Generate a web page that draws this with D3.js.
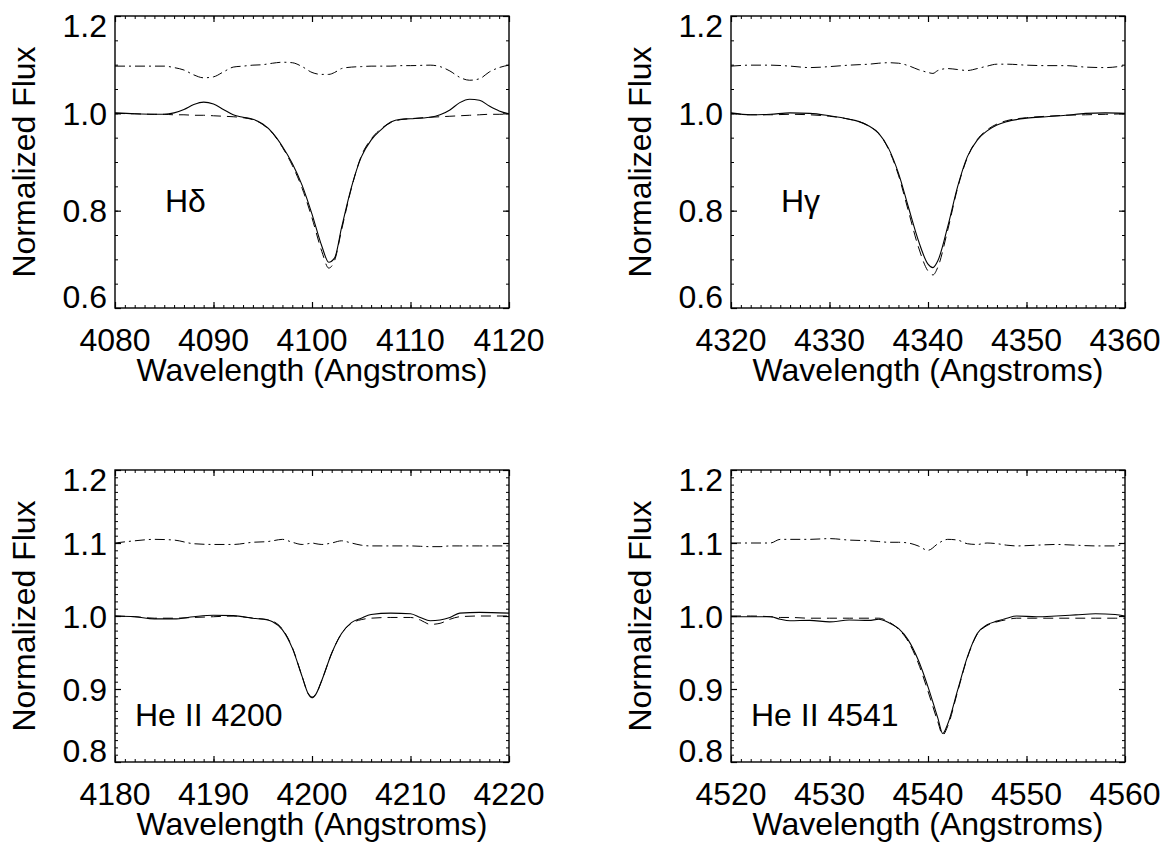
<!DOCTYPE html>
<html>
<head>
<meta charset="utf-8">
<script src="https://cdn.jsdelivr.net/npm/d3@7"></script>
<style>
  body { margin: 0; background: #fff; }
  text { font-family: "Liberation Sans", Arial, Helvetica, sans-serif; fill: #000; }
</style>
</head>
<body>
<svg id="chart" width="1165" height="843"></svg>
<script>
// ---- H delta (4101 A) ----
const hdWave = [4080,4082,4084,4085,4086,4087,4088,4089,4090,4091,4092,4093,4094,4095,4096,4097,4098,4099,4100,4101,4101.7,4102.3,4103,4104,4105,4106,4107,4108,4109,4110,4112,4113,4114,4115,4116,4117,4118,4119,4120];
const hdObs  = [1.001,0.999,0.998,0.998,1.001,1.008,1.018,1.023,1.019,1.008,0.997,0.992,0.988,0.978,0.960,0.932,0.897,0.852,0.793,0.727,0.694,0.703,0.765,0.848,0.910,0.945,0.966,0.982,0.988,0.989,0.992,0.997,1.007,1.022,1.029,1.027,1.015,1.005,0.999];
const hdModel= [1.000,0.999,0.998,0.998,0.997,0.997,0.996,0.996,0.995,0.994,0.993,0.991,0.987,0.977,0.959,0.930,0.893,0.846,0.785,0.716,0.682,0.698,0.760,0.846,0.912,0.947,0.968,0.981,0.987,0.989,0.992,0.993,0.994,0.995,0.996,0.997,0.998,0.998,0.999];
const hdResid= [1.097,1.097,1.097,1.097,1.094,1.089,1.079,1.073,1.075,1.085,1.095,1.097,1.099,1.100,1.103,1.105,1.104,1.096,1.084,1.080,1.080,1.084,1.092,1.095,1.096,1.097,1.097,1.097,1.098,1.098,1.099,1.096,1.087,1.074,1.068,1.071,1.085,1.094,1.099];

// ---- H gamma (4340 A) ----
const hgWave = [4320,4322,4324,4326,4328,4330,4332,4333,4334,4335,4336,4337,4338,4339,4340,4340.5,4341,4342,4343,4344,4345,4346,4347,4348,4350,4352,4354,4356,4358,4360];
const hgObs  = [1.001,0.997,0.998,1.001,1.000,0.995,0.988,0.983,0.974,0.959,0.928,0.877,0.808,0.740,0.690,0.683,0.697,0.767,0.849,0.911,0.945,0.964,0.976,0.983,0.990,0.993,0.996,1.000,1.001,1.000];
const hgModel= [1.000,0.997,0.997,0.998,0.997,0.994,0.988,0.983,0.974,0.958,0.926,0.873,0.800,0.727,0.676,0.668,0.684,0.760,0.846,0.909,0.946,0.966,0.978,0.985,0.991,0.994,0.996,0.997,0.998,0.999];
const hgResid= [1.097,1.099,1.099,1.097,1.094,1.096,1.099,1.100,1.101,1.103,1.104,1.103,1.098,1.090,1.084,1.082,1.088,1.092,1.090,1.088,1.092,1.097,1.101,1.101,1.099,1.098,1.098,1.095,1.094,1.098];

// ---- He II 4200 ----
const he4200Wave = [4180,4182,4184,4186,4188,4190,4192,4194,4195.5,4196,4197,4198,4199,4199.6,4200,4200.4,4201,4202,4203,4204,4205,4206,4208,4210,4211,4212,4213,4214,4215,4217,4220];
const he4200Obs  = [1.000,0.999,0.996,0.996,0.999,1.001,1.0005,0.997,0.9945,0.992,0.981,0.956,0.917,0.894,0.888,0.893,0.912,0.949,0.976,0.991,0.997,1.002,1.004,1.003,0.998,0.9935,0.9945,0.998,1.004,1.005,1.004];
const he4200Model= [1.000,0.999,0.997,0.997,0.998,0.999,1.000,0.997,0.995,0.993,0.982,0.957,0.917,0.894,0.889,0.893,0.912,0.949,0.976,0.990,0.995,0.997,0.998,0.998,0.9945,0.9885,0.990,0.9955,0.999,1.000,1.000];
const he4200Resid= [1.100,1.103,1.105,1.104,1.099,1.098,1.098,1.101,1.102,1.103,1.105,1.101,1.098,1.099,1.100,1.099,1.098,1.100,1.103,1.100,1.097,1.096,1.096,1.096,1.0955,1.095,1.095,1.096,1.096,1.096,1.096];

// ---- He II 4541 ----
const he4541Wave = [4520,4522,4524,4525,4526,4528,4530,4532,4534,4535,4536,4537,4538,4539,4540,4541,4541.5,4542,4543,4544,4545,4546,4547,4548,4549,4551,4553,4555,4557,4559,4560];
const he4541Obs  = [0.999,0.999,0.999,0.9955,0.9935,0.994,0.992,0.9945,0.994,0.9955,0.991,0.983,0.967,0.940,0.903,0.860,0.839,0.852,0.898,0.944,0.976,0.988,0.993,0.997,1.000,0.999,1.000,1.0015,1.003,1.002,1.000];
const he4541Model= [1.000,1.000,0.999,0.998,0.998,0.997,0.997,0.997,0.997,0.997,0.992,0.982,0.965,0.936,0.897,0.855,0.837,0.849,0.896,0.943,0.975,0.987,0.992,0.995,0.997,0.997,0.997,0.997,0.997,0.997,0.997];
const he4541Resid= [1.100,1.100,1.100,1.105,1.105,1.105,1.106,1.104,1.103,1.102,1.101,1.101,1.100,1.096,1.090,1.099,1.103,1.105,1.104,1.099,1.098,1.100,1.099,1.097,1.096,1.097,1.098,1.097,1.096,1.096,1.100];

// ---- axis ticks and labels ----
const balmerYTicks = [0.6, 0.8, 1.0, 1.2];
const balmerYLabels = ["0.6", "0.8", "1.0", "1.2"];
const heliumYTicks = [0.8, 0.9, 1.0, 1.1, 1.2];
const heliumYLabels = ["0.8", "0.9", "1.0", "1.1", "1.2"];
const hdXTicks = [4080, 4090, 4100, 4110, 4120];
const hgXTicks = [4320, 4330, 4340, 4350, 4360];
const he4200XTicks = [4180, 4190, 4200, 4210, 4220];
const he4541XTicks = [4520, 4530, 4540, 4550, 4560];

const panelNames = ["H\u03B4", "H\u03B3", "He II 4200", "He II 4541"];
const xTitle = "Wavelength (Angstroms)";
const yTitle = "Normalized Flux";

// panel layout
const W = 394, H = 292;
const FONT = 32;
const panels = [
  { left: 115, top: 16,  wave: hdWave, obs: hdObs, model: hdModel, resid: hdResid,
    xTicks: hdXTicks, yTicks: balmerYTicks, yLabels: balmerYLabels, yMinorStep: 0.05,
    name: panelNames[0], nameDx: 50, nameBase: 212 - 16 },
  { left: 731, top: 16,  wave: hgWave, obs: hgObs, model: hgModel, resid: hgResid,
    xTicks: hgXTicks, yTicks: balmerYTicks, yLabels: balmerYLabels, yMinorStep: 0.05,
    name: panelNames[1], nameDx: 50, nameBase: 212 - 16 },
  { left: 115, top: 470, wave: he4200Wave, obs: he4200Obs, model: he4200Model, resid: he4200Resid,
    xTicks: he4200XTicks, yTicks: heliumYTicks, yLabels: heliumYLabels, yMinorStep: 0.01,
    name: panelNames[2], nameDx: 20, nameBase: 726 - 470 },
  { left: 731, top: 470, wave: he4541Wave, obs: he4541Obs, model: he4541Model, resid: he4541Resid,
    xTicks: he4541XTicks, yTicks: heliumYTicks, yLabels: heliumYLabels, yMinorStep: 0.01,
    name: panelNames[3], nameDx: 20, nameBase: 726 - 470 }
];

const svg = d3.select("#chart");
svg.append("rect").attr("width", 1165).attr("height", 843).attr("fill", "#fff");

function rangeStep(a, b, s) {
  const out = [];
  const n = Math.round((b - a) / s);
  for (let i = 0; i <= n; i++) out.push(+(a + i * s).toFixed(4));
  return out;
}

panels.forEach((p, idx) => {
  const xDom = [p.xTicks[0], p.xTicks[p.xTicks.length - 1]];
  const yDom = [p.yTicks[0], p.yTicks[p.yTicks.length - 1]];
  const x = d3.scaleLinear().domain(xDom).range([0, W]);
  const y = d3.scaleLinear().domain(yDom).range([H, 0]);

  const g = svg.append("g").attr("transform", `translate(${p.left},${p.top})`);

  const clipId = "clip" + idx;
  g.append("clipPath").attr("id", clipId)
    .append("rect").attr("width", W).attr("height", H);

  const xMinor = rangeStep(xDom[0], xDom[1], 1);
  const yMinor = rangeStep(yDom[0], yDom[1], p.yMinorStep);

  // inward ticks on all four sides
  const axes = [
    { ax: d3.axisBottom(x), t: `translate(0,${H})`, minor: xMinor, major: p.xTicks },
    { ax: d3.axisTop(x),    t: `translate(0,0)`,    minor: xMinor, major: p.xTicks },
    { ax: d3.axisLeft(y),   t: `translate(0,0)`,    minor: yMinor, major: p.yTicks },
    { ax: d3.axisRight(y),  t: `translate(${W},0)`, minor: yMinor, major: p.yTicks }
  ];
  axes.forEach(a => {
    const gm = g.append("g").attr("transform", a.t)
      .call(a.ax.tickValues(a.minor).tickSize(-3).tickFormat(""));
    gm.select(".domain").remove();
    gm.selectAll("line").attr("stroke", "#000").attr("stroke-width", 1);
    const gM = g.append("g").attr("transform", a.t)
      .call(a.ax.tickValues(a.major).tickSize(-6).tickFormat(""));
    gM.select(".domain").remove();
    gM.selectAll("line").attr("stroke", "#000").attr("stroke-width", 1.2);
  });

  // frame
  g.append("rect").attr("width", W).attr("height", H)
    .attr("fill", "none").attr("stroke", "#000").attr("stroke-width", 1.4);

  // x tick labels
  g.selectAll(".xlab").data(p.xTicks).enter().append("text")
    .attr("x", d => x(d)).attr("y", H + 43)
    .attr("text-anchor", "middle").attr("font-size", FONT)
    .text(d => String(d));

  // y tick labels, end labels kept inside the frame height
  g.selectAll(".ylab").data(p.yTicks).enter().append("text")
    .attr("x", -8)
    .attr("y", d => Math.min(Math.max(y(d) + 11.5, 21), H))
    .attr("text-anchor", "end").attr("font-size", FONT)
    .text((d, i) => p.yLabels[i]);

  // axis titles
  g.append("text").attr("x", W / 2).attr("y", H + 73)
    .attr("text-anchor", "middle").attr("font-size", FONT).text(xTitle);
  g.append("text")
    .attr("transform", `translate(-80,${H / 2}) rotate(-90)`)
    .attr("text-anchor", "middle").attr("font-size", FONT).text(yTitle);

  // spectra
  const plot = g.append("g").attr("clip-path", `url(#${clipId})`);
  const mk = arr => d3.line()
    .x((d, i) => x(p.wave[i]))
    .y(d => y(d))
    .curve(d3.curveMonotoneX)(arr);

  plot.append("path").attr("d", mk(p.model))
    .attr("fill", "none").attr("stroke", "#000").attr("stroke-width", 1)
    .attr("stroke-dasharray", "10,6");
  plot.append("path").attr("d", mk(p.obs))
    .attr("fill", "none").attr("stroke", "#000").attr("stroke-width", 1.1);
  plot.append("path").attr("d", mk(p.resid))
    .attr("fill", "none").attr("stroke", "#000").attr("stroke-width", 1)
    .attr("stroke-dasharray", "10,4,2,4");

  // line label
  g.append("text").attr("x", p.nameDx).attr("y", p.nameBase)
    .attr("font-size", FONT).text(p.name);
});
</script>
</body>
</html>
